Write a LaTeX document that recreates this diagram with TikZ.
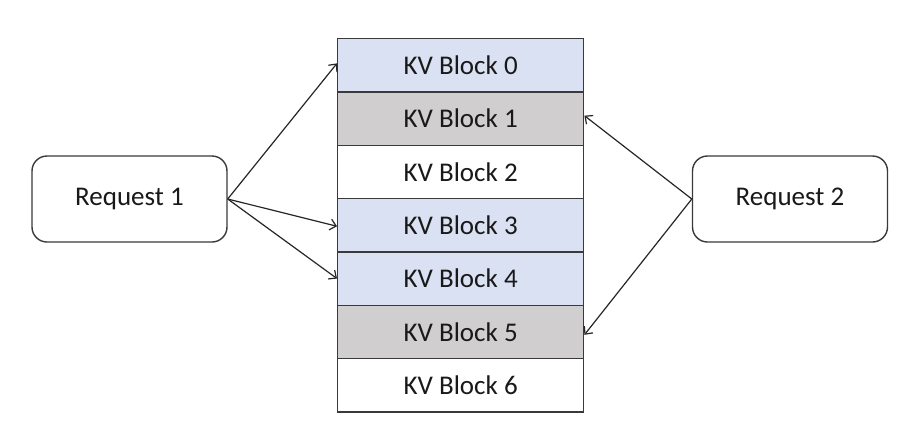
\documentclass[tikz,border=0pt]{standalone}
\usepackage{fontspec}
\setmainfont{Carlito}
\usetikzlibrary{arrows.meta}
\definecolor{kvblue}{HTML}{DAE1F3}
\definecolor{kvgray}{HTML}{D0CECE}
\definecolor{lineclr}{HTML}{3A3A3A}
\begin{document}
\begin{tikzpicture}[x=1pt,y=-1pt,
  kvblock/.style={draw=lineclr,line width=1.4pt,minimum width=246pt,minimum height=53.3pt,inner sep=0pt,font=\fontsize{27}{30}\selectfont,anchor=north west,text=black!90},
  reqbox/.style={draw=lineclr,line width=1.4pt,rounded corners=15pt,minimum width=195pt,minimum height=86pt,inner sep=0pt,font=\fontsize{27}{30}\selectfont,text=black!90},
  conn/.style={line width=1.2pt,draw=black!85,-{Straight Barb[length=6pt,width=11pt]}}]
\useasboundingbox (0,0) rectangle (914,440);
\fill[white] (0,0) rectangle (914,440);
\node[kvblock,fill=kvblue] (b0) at (337,38) {KV Block 0};
\node[kvblock,fill=kvgray] (b1) at (337,91.3) {KV Block 1};
\node[kvblock,fill=white] (b2) at (337,144.6) {KV Block 2};
\node[kvblock,fill=kvblue] (b3) at (337,197.9) {KV Block 3};
\node[kvblock,fill=kvblue] (b4) at (337,251.2) {KV Block 4};
\node[kvblock,fill=kvgray] (b5) at (337,304.5) {KV Block 5};
\node[kvblock,fill=white] (b6) at (337,357.8) {KV Block 6};
\node[reqbox] (r1) at (129.5,199) {Request 1};
\node[reqbox] (r2) at (790,199) {Request 2};
\draw[conn] (r1.east) -- ([yshift=2pt]b0.west);
\draw[conn] (r1.east) -- ([yshift=-1pt]b3.west);
\draw[conn] (r1.east) -- (b4.west);
\draw[conn] (r2.west) -- ([yshift=3pt]b1.east);
\draw[conn] (r2.west) -- ([yshift=-3pt]b5.east);
\end{tikzpicture}
\end{document}
